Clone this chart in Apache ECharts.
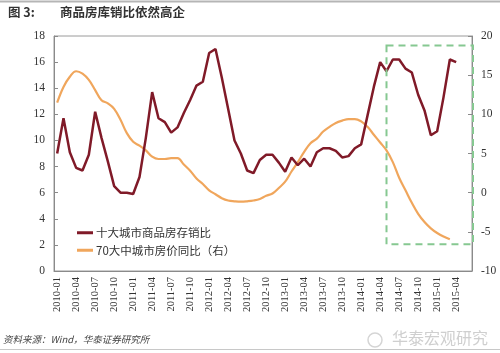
<!DOCTYPE html>
<html>
<head>
<meta charset="utf-8">
<script src="https://cdn.jsdelivr.net/npm/echarts@6/dist/echarts.min.js"></script>
<style>html,body{margin:0;padding:0;background:#fff;}#c{width:500px;height:353px;}</style>
</head>
<body>
<div id="c"></div>
<script>
// categories: monthly 2010-01 .. 2015-06
const categories = [];
for (let y = 2010; y <= 2015; y++) {
  for (let m = 1; m <= 12; m++) {
    if (y === 2015 && m > 6) break;
    categories.push(y + '-' + (m < 10 ? '0' + m : '' + m));
  }
}
const leftTicks = [0, 2, 4, 6, 8, 10, 12, 14, 16, 18];
const rightTicks = [-10, -5, 0, 5, 10, 15, 20];

const ratioName = '十大城市商品房存销比';
const ratioValues = [
  9.0, 11.7, 9.1, 7.9, 7.7, 8.9, 12.2, 10.2, 8.4, 6.5, 6.0, 6.0,
  5.9, 7.2, 10.2, 13.7, 11.7, 11.4, 10.6, 11.0, 12.1, 13.1, 14.2, 14.5,
  16.7, 17.0, 14.8, 12.4, 10.0, 9.0, 7.7, 7.5, 8.5, 8.9, 8.9, 8.3,
  7.6, 8.7, 8.1, 8.6, 8.0, 9.1, 9.4, 9.4, 9.2, 8.7, 8.8, 9.4,
  9.7, 11.9, 14.1, 16.0, 15.3, 16.2, 16.2, 15.5, 15.2, 13.5, 12.3, 10.4,
  10.7, 13.3, 16.2, 16.0
];
const priceName = '70大中城市房价同比（右）';
const priceValues = [
  11.5, 13.5, 14.8, 15.5, 15.2, 14.4, 13.1, 11.8, 11.4, 10.7, 9.3, 7.6,
  6.5, 6.0, 5.4, 4.6, 4.3, 4.3, 4.4, 4.4, 3.6, 2.8, 1.8, 1.1,
  0.3, -0.2, -0.7, -1.0, -1.1, -1.15, -1.1, -1.0, -0.8, -0.4, -0.1, 0.6,
  1.4, 2.7, 3.9, 5.2, 6.3, 6.9, 7.8, 8.4, 8.9, 9.2, 9.4, 9.4,
  9.1, 8.4, 7.4, 6.4, 5.4, 3.9, 1.9, 0.3, -1.3, -2.7, -3.75, -4.55,
  -5.15, -5.6, -5.95
];
// highlighted region (annotation)
const boxStart = '2014-05';
const boxTopRight = 18.8;
const boxBottomRight = -6.6;

const serif = '"Liberation Serif", "Times New Roman", serif';
const cjk = '"Noto Sans CJK SC", sans-serif';

const chart = echarts.init(document.getElementById('c'), null, {renderer: 'canvas'});
const option = {
  animation: false,
  backgroundColor: '#fff',
  grid: {left: 54, right: 28, top: 36, bottom: 82, show: true, borderColor: '#9a9a9a', borderWidth: 1},
  legend: {
    orient: 'vertical', left: 72, top: 222, itemGap: 6,
    icon: 'rect', itemWidth: 16, itemHeight: 3,
    textStyle: {fontFamily: cjk, fontSize: 11.5, color: '#333', padding: [0, 0, 0, -2]},
    data: [ratioName, priceName]
  },
  xAxis: {
    type: 'category', data: categories, boundaryGap: true,
    axisLine: {lineStyle: {color: '#8a8a8a'}},
    axisTick: {inside: true, length: 4, interval: 2, lineStyle: {color: '#8a8a8a'}},
    axisLabel: {interval: 2, rotate: 90, fontFamily: serif, fontSize: 10.5, color: '#333', margin: 6},
    splitLine: {show: false}
  },
  yAxis: [
    {
      type: 'value', min: leftTicks[0], max: leftTicks[leftTicks.length - 1], interval: 2,
      axisLine: {show: true, lineStyle: {color: '#8a8a8a'}},
      axisTick: {show: true, inside: true, length: 4, lineStyle: {color: '#8a8a8a'}},
      axisLabel: {fontFamily: serif, fontSize: 11.5, color: '#333', margin: 9},
      splitLine: {show: false}
    },
    {
      type: 'value', min: rightTicks[0], max: rightTicks[rightTicks.length - 1], interval: 5,
      axisLine: {show: true, lineStyle: {color: '#8a8a8a'}},
      axisTick: {show: true, inside: true, length: 4, lineStyle: {color: '#8a8a8a'}},
      axisLabel: {fontFamily: serif, fontSize: 11.5, color: '#333', margin: 9},
      splitLine: {show: false}
    }
  ],
  series: [
    {
      name: ratioName, type: 'line', data: ratioValues, yAxisIndex: 0,
      showSymbol: false, symbol: 'none', smooth: false,
      lineStyle: {color: '#801a28', width: 2.5}, itemStyle: {color: '#801a28'}, z: 3
    },
    {
      name: priceName, type: 'line', data: priceValues, yAxisIndex: 1,
      showSymbol: false, symbol: 'none', smooth: 0.4,
      lineStyle: {color: '#f0a65c', width: 2.2}, itemStyle: {color: '#f0a65c'}, z: 2
    }
  ],
  graphic: [
    {type: 'line', shape: {x1: 0, y1: 1.5, x2: 500, y2: 1.5}, style: {stroke: '#b5b5b5', lineWidth: 2}},
    {type: 'text', left: 8, top: 6, style: {text: '图 3:', font: 'bold 12.5px ' + cjk, fill: '#333'}},
    {type: 'text', left: 60, top: 6, style: {text: '商品房库销比依然高企', font: 'bold 12.5px ' + cjk, fill: '#333'}},
    {type: 'text', left: 3, top: 335, style: {text: '资料来源：Wind，华泰证券研究所', font: 'italic 9.5px ' + cjk, fill: '#444'}},
    {type: 'text', left: 392, top: 330, style: {text: '华泰宏观研究', font: '16px ' + cjk, fill: '#cfcfcf'}},
    {type: 'circle', shape: {cx: 375, cy: 340, r: 7}, style: {fill: 'none', stroke: '#d5d5d5', lineWidth: 1.5}},
    {type: 'line', shape: {x1: 0, y1: 349.5, x2: 500, y2: 349.5}, style: {stroke: '#c8c8c8', lineWidth: 1}}
  ]
};
chart.setOption(option);

// dashed highlight box positioned through the axes' scales
const xL = chart.convertToPixel({xAxisIndex: 0}, boxStart);
const nCat = categories.length;
const xLast = chart.convertToPixel({xAxisIndex: 0}, categories[nCat - 1]);
const xPrev = chart.convertToPixel({xAxisIndex: 0}, categories[nCat - 2]);
const xR = xLast + (xLast - xPrev) / 2 + 1;
const yT = chart.convertToPixel({yAxisIndex: 1}, boxTopRight);
const yB = chart.convertToPixel({yAxisIndex: 1}, boxBottomRight);
option.graphic.push({
  type: 'rect', z: 10,
  shape: {x: xL, y: yT, width: xR - xL, height: yB - yT},
  style: {fill: 'none', stroke: '#86c891', lineWidth: 2, lineDash: [7, 5]}
});
chart.setOption({graphic: option.graphic});
</script>
</body>
</html>
